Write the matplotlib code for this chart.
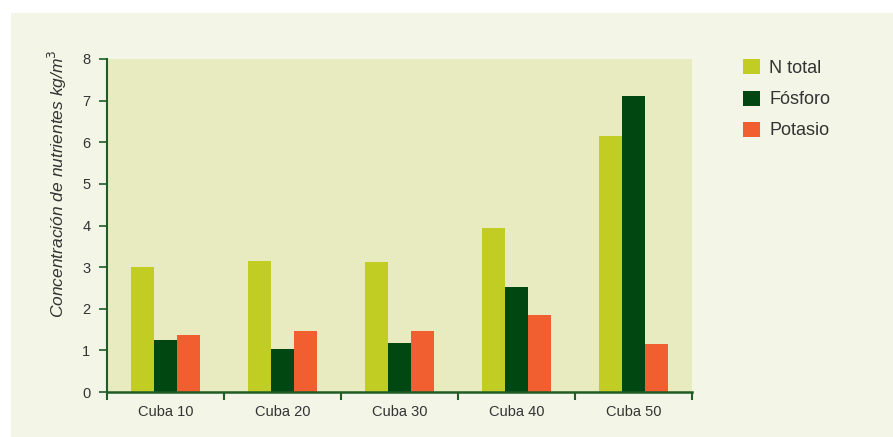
import matplotlib
matplotlib.use("Agg")
import matplotlib.pyplot as plt
from matplotlib.patches import Rectangle
import numpy as np

categories = ["Cuba 10", "Cuba 20", "Cuba 30", "Cuba 40", "Cuba 50"]
series_names = ["N total", "Fósforo", "Potasio"]
n_total = [3.0, 3.14, 3.13, 3.95, 6.15]
fosforo = [1.25, 1.04, 1.18, 2.52, 7.1]
potasio = [1.36, 1.47, 1.47, 1.85, 1.16]
y_ticks = [0, 1, 2, 3, 4, 5, 6, 7, 8]

colors = ["#c2cd23", "#004712", "#f15f31"]
axis_col = "#1f5c26"
text_col = "#333333"

plt.rcParams['font.family'] = ['Liberation Sans', 'DejaVu Sans']

W, H = 893, 437
fig = plt.figure(figsize=(W / 100, H / 100), dpi=100)
fig.patch.set_facecolor("white")
bg = Rectangle((11 / W, 0), 1 - 11 / W, (H - 13) / H,
               transform=fig.transFigure, facecolor="#f3f5e6",
               edgecolor="none", zorder=-10)
fig.patches.append(bg)

ax = fig.add_axes([107 / W, 1 - 392 / H, (692 - 107) / W, (392 - 59) / H])
ax.set_zorder(1)
ax.set_facecolor("#e8ebc0")

x = np.arange(len(categories))
bw = 0.197
for i, (vals, name) in enumerate(zip([n_total, fosforo, potasio], series_names)):
    ax.bar(x + (i - 1) * bw, vals, width=bw, color=colors[i], label=name,
           edgecolor="none", zorder=2)

ax.set_xlim(-0.5, len(categories) - 0.5)
ax.set_ylim(0, 8)
ax.set_yticks(y_ticks)
ax.set_yticklabels([str(t) for t in y_ticks], fontsize=10.5, color=text_col)

ax.set_xticks(np.arange(len(categories) + 1) - 0.5)
ax.set_xticklabels([])
ax.set_xticks(x, minor=True)
ax.set_xticklabels(categories, minor=True, fontsize=10.5, color=text_col)
ax.tick_params(axis="x", which="minor", length=0, pad=9)
ax.tick_params(axis="x", which="major", direction="out", length=6, width=1.5, color=axis_col)
ax.tick_params(axis="y", direction="out", length=6, width=1.2, color=axis_col, pad=6)

for s in ["top", "right"]:
    ax.spines[s].set_visible(False)
ax.spines["left"].set_color(axis_col)
ax.spines["left"].set_linewidth(1.5)
ax.spines["bottom"].set_color(axis_col)
ax.spines["bottom"].set_linewidth(1.8)

fig.text(57 / W, 1 - 184 / H, "Concentración de nutrientes kg/m$^3$",
         rotation=90, ha="center", va="center", fontsize=12.5, style="italic",
         color=text_col)

handles, labels = ax.get_legend_handles_labels()
leg = fig.legend(handles, labels, loc="upper left",
                 bbox_to_anchor=(727 / W, 1 - 43 / H), frameon=False,
                 fontsize=13, handlelength=0.9, handleheight=0.9,
                 handletextpad=0.55, labelspacing=0.75, labelcolor=text_col)

fig.savefig("out.png", dpi=100, facecolor=fig.get_facecolor())
